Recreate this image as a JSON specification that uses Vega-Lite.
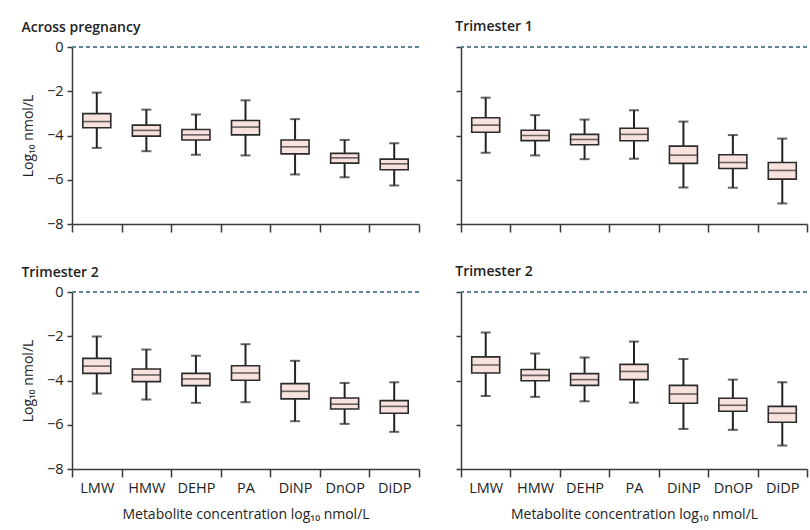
{
  "$schema": "https://vega.github.io/schema/vega-lite/v6.json",
  "padding": {"left": 21, "top": 20, "right": 5, "bottom": 5},
  "background": "white",
  "spacing": 32,
  "datasets": {
    "boxes": [
      {"panel": "Across pregnancy", "metabolite": "LMW", "lo": -4.56, "q1": -3.65, "med": -3.37, "q3": -3.01, "hi": -2.06},
      {"panel": "Across pregnancy", "metabolite": "HMW", "lo": -4.71, "q1": -4.03, "med": -3.77, "q3": -3.53, "hi": -2.83},
      {"panel": "Across pregnancy", "metabolite": "DEHP", "lo": -4.87, "q1": -4.2, "med": -3.97, "q3": -3.73, "hi": -3.05},
      {"panel": "Across pregnancy", "metabolite": "PA", "lo": -4.9, "q1": -3.97, "med": -3.62, "q3": -3.32, "hi": -2.41},
      {"panel": "Across pregnancy", "metabolite": "DiNP", "lo": -5.76, "q1": -4.83, "med": -4.51, "q3": -4.2, "hi": -3.26},
      {"panel": "Across pregnancy", "metabolite": "DnOP", "lo": -5.89, "q1": -5.25, "med": -5.01, "q3": -4.81, "hi": -4.2},
      {"panel": "Across pregnancy", "metabolite": "DiDP", "lo": -6.26, "q1": -5.55, "med": -5.28, "q3": -5.07, "hi": -4.35},
      {"panel": "Trimester 1", "metabolite": "LMW", "lo": -4.78, "q1": -3.85, "med": -3.53, "q3": -3.2, "hi": -2.29},
      {"panel": "Trimester 1", "metabolite": "HMW", "lo": -4.9, "q1": -4.23, "med": -4.0, "q3": -3.76, "hi": -3.08},
      {"panel": "Trimester 1", "metabolite": "DEHP", "lo": -5.07, "q1": -4.42, "med": -4.18, "q3": -3.95, "hi": -3.28},
      {"panel": "Trimester 1", "metabolite": "PA", "lo": -5.05, "q1": -4.24, "med": -3.95, "q3": -3.67, "hi": -2.86},
      {"panel": "Trimester 1", "metabolite": "DiNP", "lo": -6.35, "q1": -5.26, "med": -4.89, "q3": -4.48, "hi": -3.37},
      {"panel": "Trimester 1", "metabolite": "DnOP", "lo": -6.36, "q1": -5.49, "med": -5.22, "q3": -4.87, "hi": -3.98},
      {"panel": "Trimester 1", "metabolite": "DiDP", "lo": -7.07, "q1": -5.97, "med": -5.58, "q3": -5.22, "hi": -4.14},
      {"panel": "Trimester 2a", "metabolite": "LMW", "lo": -4.59, "q1": -3.68, "med": -3.35, "q3": -3.0, "hi": -2.01},
      {"panel": "Trimester 2a", "metabolite": "HMW", "lo": -4.86, "q1": -4.05, "med": -3.75, "q3": -3.48, "hi": -2.6},
      {"panel": "Trimester 2a", "metabolite": "DEHP", "lo": -5.01, "q1": -4.23, "med": -3.93, "q3": -3.68, "hi": -2.88},
      {"panel": "Trimester 2a", "metabolite": "PA", "lo": -4.98, "q1": -3.99, "med": -3.66, "q3": -3.33, "hi": -2.36},
      {"panel": "Trimester 2a", "metabolite": "DiNP", "lo": -5.84, "q1": -4.83, "med": -4.49, "q3": -4.14, "hi": -3.11},
      {"panel": "Trimester 2a", "metabolite": "DnOP", "lo": -5.96, "q1": -5.29, "med": -5.07, "q3": -4.79, "hi": -4.11},
      {"panel": "Trimester 2a", "metabolite": "DiDP", "lo": -6.32, "q1": -5.48, "med": -5.17, "q3": -4.91, "hi": -4.08},
      {"panel": "Trimester 2b", "metabolite": "LMW", "lo": -4.7, "q1": -3.66, "med": -3.3, "q3": -2.93, "hi": -1.83},
      {"panel": "Trimester 2b", "metabolite": "HMW", "lo": -4.74, "q1": -4.01, "med": -3.77, "q3": -3.5, "hi": -2.78},
      {"panel": "Trimester 2b", "metabolite": "DEHP", "lo": -4.94, "q1": -4.22, "med": -3.96, "q3": -3.69, "hi": -2.96},
      {"panel": "Trimester 2b", "metabolite": "PA", "lo": -5.0, "q1": -3.96, "med": -3.59, "q3": -3.27, "hi": -2.24},
      {"panel": "Trimester 2b", "metabolite": "DiNP", "lo": -6.19, "q1": -5.03, "med": -4.61, "q3": -4.22, "hi": -3.03},
      {"panel": "Trimester 2b", "metabolite": "DnOP", "lo": -6.23, "q1": -5.39, "med": -5.12, "q3": -4.8, "hi": -3.96},
      {"panel": "Trimester 2b", "metabolite": "DiDP", "lo": -6.94, "q1": -5.89, "med": -5.48, "q3": -5.17, "hi": -4.08}
    ]
  },
  "config": {
    "font": "Open Sans",
    "view": {"stroke": null},
    "axis": {
      "domainColor": "#3a3a3a",
      "domainWidth": 1.5,
      "tickColor": "#3a3a3a",
      "tickWidth": 1.5,
      "grid": false,
      "labelFont": "Open Sans",
      "labelFontSize": 14.5,
      "labelColor": "#222",
      "titleFont": "Open Sans",
      "titleFontSize": 14,
      "titleFontWeight": "normal",
      "titleColor": "#222"
    },
    "title": {
      "font": "Open Sans",
      "fontSize": 14,
      "fontWeight": 600,
      "color": "#222",
      "anchor": "start"
    }
  },
  "vconcat": [
    {
      "spacing": 35,
      "hconcat": [
        {
          "title": {"text": "Across pregnancy", "offset": 4},
          "width": 347,
          "height": 177,
          "data": {"name": "boxes"},
          "transform": [{"filter": "datum.panel == 'Across pregnancy'"}],
          "encoding": {
            "x": {
              "field": "metabolite", "type": "nominal", "sort": null,
              "scale": {"paddingInner": 0, "paddingOuter": 0},
              "axis": {"title": null, "labels": false, "tickBand": "extent", "tickSize": 8}
            }
          },
          "layer": [
            {"mark": {"type": "rule", "color": "#5f8595", "strokeDash": [4, 3], "strokeWidth": 1.2}, "encoding": {"x": null, "y": {"datum": 0}}},
            {"mark": {"type": "rule", "color": "#222", "strokeWidth": 2}, "encoding": {"y": {"field": "lo", "type": "quantitative", "scale": {"domain": [-8, 0], "nice": false}, "axis": {"title": "Log₁₀ nmol/L", "values": [0, -2, -4, -6, -8], "tickSize": 5, "titlePadding": 11, "labelPadding": 4}}, "y2": {"field": "hi"}}},
            {"mark": {"type": "tick", "color": "#222", "size": 10, "thickness": 2}, "encoding": {"y": {"field": "lo", "type": "quantitative"}}},
            {"mark": {"type": "tick", "color": "#222", "size": 10, "thickness": 2}, "encoding": {"y": {"field": "hi", "type": "quantitative"}}},
            {"mark": {"type": "bar", "width": 28, "fill": "#f7e2de", "stroke": "#2b2b2b", "strokeWidth": 1.6}, "encoding": {"y": {"field": "q1", "type": "quantitative"}, "y2": {"field": "q3"}}},
            {"mark": {"type": "tick", "color": "#2b2b2b", "size": 28, "thickness": 1.6}, "encoding": {"y": {"field": "med", "type": "quantitative"}}}
          ]
        },
        {
          "title": {"text": "Trimester 1", "offset": 12},
          "width": 346,
          "height": 177,
          "data": {"name": "boxes"},
          "transform": [{"filter": "datum.panel == 'Trimester 1'"}],
          "encoding": {
            "x": {
              "field": "metabolite", "type": "nominal", "sort": null,
              "scale": {"paddingInner": 0, "paddingOuter": 0},
              "axis": {"title": null, "labels": false, "tickBand": "extent", "tickSize": 8}
            }
          },
          "layer": [
            {"mark": {"type": "rule", "color": "#5f8595", "strokeDash": [4, 3], "strokeWidth": 1.2}, "encoding": {"x": null, "y": {"datum": 0}}},
            {"mark": {"type": "rule", "color": "#222", "strokeWidth": 2}, "encoding": {"y": {"field": "lo", "type": "quantitative", "scale": {"domain": [-8, 0], "nice": false}, "axis": {"title": null, "labels": false, "values": [0, -2, -4, -6, -8], "tickSize": 5}}, "y2": {"field": "hi"}}},
            {"mark": {"type": "tick", "color": "#222", "size": 10, "thickness": 2}, "encoding": {"y": {"field": "lo", "type": "quantitative"}}},
            {"mark": {"type": "tick", "color": "#222", "size": 10, "thickness": 2}, "encoding": {"y": {"field": "hi", "type": "quantitative"}}},
            {"mark": {"type": "bar", "width": 28, "fill": "#f7e2de", "stroke": "#2b2b2b", "strokeWidth": 1.6}, "encoding": {"y": {"field": "q1", "type": "quantitative"}, "y2": {"field": "q3"}}},
            {"mark": {"type": "tick", "color": "#2b2b2b", "size": 28, "thickness": 1.6}, "encoding": {"y": {"field": "med", "type": "quantitative"}}}
          ]
        }
      ]
    },
    {
      "spacing": 35,
      "hconcat": [
        {
          "title": {"text": "Trimester 2", "offset": 4},
          "width": 347,
          "height": 177,
          "data": {"name": "boxes"},
          "transform": [{"filter": "datum.panel == 'Trimester 2a'"}],
          "encoding": {
            "x": {
              "field": "metabolite", "type": "nominal", "sort": null,
              "scale": {"paddingInner": 0, "paddingOuter": 0},
              "axis": {"title": "Metabolite concentration log₁₀ nmol/L", "labelAngle": 0, "tickBand": "extent", "tickSize": 8, "labelPadding": 4, "titlePadding": 13}
            }
          },
          "layer": [
            {"mark": {"type": "rule", "color": "#5f8595", "strokeDash": [4, 3], "strokeWidth": 1.2}, "encoding": {"x": null, "y": {"datum": 0}}},
            {"mark": {"type": "rule", "color": "#222", "strokeWidth": 2}, "encoding": {"y": {"field": "lo", "type": "quantitative", "scale": {"domain": [-8, 0], "nice": false}, "axis": {"title": "Log₁₀ nmol/L", "values": [0, -2, -4, -6, -8], "tickSize": 5, "titlePadding": 11, "labelPadding": 4}}, "y2": {"field": "hi"}}},
            {"mark": {"type": "tick", "color": "#222", "size": 10, "thickness": 2}, "encoding": {"y": {"field": "lo", "type": "quantitative"}}},
            {"mark": {"type": "tick", "color": "#222", "size": 10, "thickness": 2}, "encoding": {"y": {"field": "hi", "type": "quantitative"}}},
            {"mark": {"type": "bar", "width": 28, "fill": "#f7e2de", "stroke": "#2b2b2b", "strokeWidth": 1.6}, "encoding": {"y": {"field": "q1", "type": "quantitative"}, "y2": {"field": "q3"}}},
            {"mark": {"type": "tick", "color": "#2b2b2b", "size": 28, "thickness": 1.6}, "encoding": {"y": {"field": "med", "type": "quantitative"}}}
          ]
        },
        {
          "title": {"text": "Trimester 2", "offset": 12},
          "width": 346,
          "height": 177,
          "data": {"name": "boxes"},
          "transform": [{"filter": "datum.panel == 'Trimester 2b'"}],
          "encoding": {
            "x": {
              "field": "metabolite", "type": "nominal", "sort": null,
              "scale": {"paddingInner": 0, "paddingOuter": 0},
              "axis": {"title": "Metabolite concentration log₁₀ nmol/L", "labelAngle": 0, "tickBand": "extent", "tickSize": 8, "labelPadding": 4, "titlePadding": 13}
            }
          },
          "layer": [
            {"mark": {"type": "rule", "color": "#5f8595", "strokeDash": [4, 3], "strokeWidth": 1.2}, "encoding": {"x": null, "y": {"datum": 0}}},
            {"mark": {"type": "rule", "color": "#222", "strokeWidth": 2}, "encoding": {"y": {"field": "lo", "type": "quantitative", "scale": {"domain": [-8, 0], "nice": false}, "axis": {"title": null, "labels": false, "values": [0, -2, -4, -6, -8], "tickSize": 5}}, "y2": {"field": "hi"}}},
            {"mark": {"type": "tick", "color": "#222", "size": 10, "thickness": 2}, "encoding": {"y": {"field": "lo", "type": "quantitative"}}},
            {"mark": {"type": "tick", "color": "#222", "size": 10, "thickness": 2}, "encoding": {"y": {"field": "hi", "type": "quantitative"}}},
            {"mark": {"type": "bar", "width": 28, "fill": "#f7e2de", "stroke": "#2b2b2b", "strokeWidth": 1.6}, "encoding": {"y": {"field": "q1", "type": "quantitative"}, "y2": {"field": "q3"}}},
            {"mark": {"type": "tick", "color": "#2b2b2b", "size": 28, "thickness": 1.6}, "encoding": {"y": {"field": "med", "type": "quantitative"}}}
          ]
        }
      ]
    }
  ]
}
